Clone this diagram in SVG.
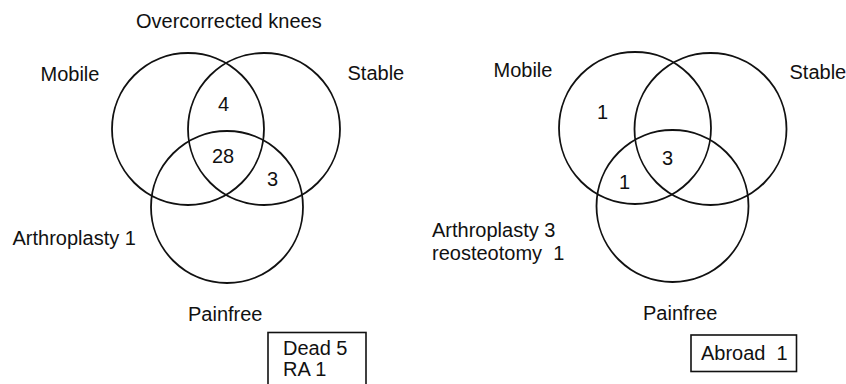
<svg xmlns="http://www.w3.org/2000/svg" width="846" height="384" viewBox="0 0 846 384">
<style>
text { font-family: "Liberation Sans", Arial, sans-serif; font-size: 20px; fill: #111; white-space: pre; }
.c { fill: none; stroke: #111; stroke-width: 1.8; }
.box { fill: #fff; stroke: #111; stroke-width: 1.6; }
</style>
<rect width="846" height="384" fill="#fff"/>
<g id="left-venn">
  <text id="title-left" x="136" y="28">Overcorrected knees</text>
  <g id="left-mobile"><circle class="c" cx="188" cy="129" r="76"/><text x="40.5" y="81">Mobile</text></g>
  <g id="left-stable"><circle class="c" cx="264" cy="129" r="76"/><text x="347.5" y="80">Stable</text></g>
  <g id="left-painfree"><circle class="c" cx="227" cy="207" r="76"/><text x="188" y="321">Painfree</text></g>
  <text x="218" y="111">4</text>
  <text x="212" y="162.5">28</text>
  <text x="267" y="186">3</text>
  <text x="12.5" y="245">Arthroplasty 1</text>
  <g id="left-box"><rect class="box" x="268" y="332.5" width="98" height="60"/>
    <text x="283" y="355">Dead 5</text>
    <text x="283" y="375.5">RA 1</text></g>
</g>
<g id="right-venn">
  <g id="right-mobile"><circle class="c" cx="635" cy="128" r="76"/><text x="493.5" y="77">Mobile</text></g>
  <g id="right-stable"><circle class="c" cx="710.5" cy="129" r="76"/><text x="789.5" y="78.5">Stable</text></g>
  <g id="right-painfree"><circle class="c" cx="672.5" cy="206" r="76"/><text x="643" y="319.5">Painfree</text></g>
  <text x="597" y="118.5">1</text>
  <text x="662" y="164.5">3</text>
  <text x="619" y="188.5">1</text>
  <text x="432" y="236.5">Arthroplasty 3</text>
  <text x="432" y="260">reosteotomy  1</text>
  <g id="right-box"><rect class="box" x="691" y="335" width="105.5" height="36.5"/>
    <text x="701" y="359.5">Abroad  1</text></g>
</g>
</svg>
